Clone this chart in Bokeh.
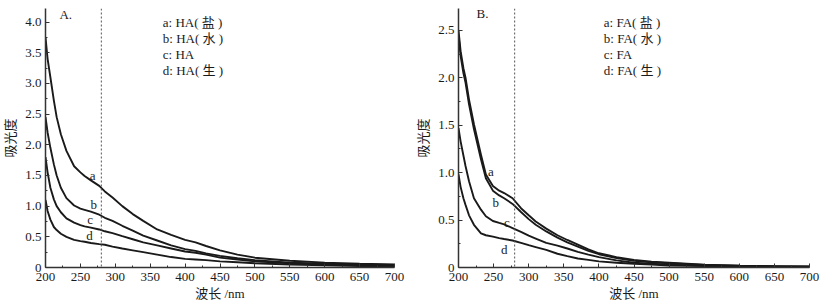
from bokeh.plotting import figure
from bokeh.layouts import row
from bokeh.models import Span, FixedTicker
from bokeh.core.properties import value
from bokeh.embed import file_html
from bokeh.resources import INLINE

# ---------------- data ----------------
x_a = [200, 203, 207, 212, 216, 222, 230, 241, 250, 256, 265, 277, 285, 296, 310, 325,
       340, 360, 380, 400, 415, 430, 450, 475, 500, 550, 600, 650, 700]
ha_salt = [3.75, 3.40, 3.10, 2.72, 2.45, 2.17, 1.90, 1.65, 1.55, 1.49, 1.42, 1.33, 1.24, 1.14,
           1.00, 0.87, 0.76, 0.62, 0.53, 0.45, 0.41, 0.35, 0.28, 0.21, 0.16, 0.11, 0.08, 0.06, 0.05]
ha_water = [2.45, 2.20, 1.95, 1.68, 1.50, 1.30, 1.13, 1.01, 0.96, 0.94, 0.91, 0.86, 0.81, 0.76,
            0.68, 0.60, 0.52, 0.44, 0.36, 0.30, 0.27, 0.23, 0.19, 0.15, 0.12, 0.08, 0.06, 0.05, 0.04]
ha_plain = [1.80, 1.55, 1.30, 1.11, 1.00, 0.90, 0.80, 0.73, 0.69, 0.67, 0.65, 0.62, 0.59, 0.56,
            0.51, 0.46, 0.41, 0.36, 0.31, 0.26, 0.24, 0.21, 0.16, 0.13, 0.10, 0.07, 0.05, 0.04, 0.03]
ha_bio = [1.10, 0.92, 0.78, 0.66, 0.61, 0.55, 0.50, 0.45, 0.43, 0.42, 0.40, 0.38, 0.37, 0.34,
          0.31, 0.28, 0.25, 0.21, 0.17, 0.14, 0.13, 0.12, 0.10, 0.085, 0.07, 0.05, 0.035, 0.025, 0.02]

x_b = [200, 203, 207, 210, 215, 222, 232, 239, 249, 258, 265, 277, 289, 300, 310, 325,
       341, 355, 370, 385, 400, 425, 450, 475, 500, 550, 600, 650, 700]
fa_salt = [2.50, 2.28, 2.10, 2.00, 1.77, 1.51, 1.19, 0.98, 0.86, 0.81, 0.785, 0.73, 0.625, 0.55,
           0.485, 0.41, 0.34, 0.29, 0.24, 0.19, 0.15, 0.11, 0.08, 0.06, 0.05, 0.03, 0.02, 0.015, 0.01]
fa_water = [2.45, 2.23, 2.05, 1.95, 1.72, 1.46, 1.14, 0.94, 0.81, 0.76, 0.73, 0.67, 0.585, 0.51,
            0.45, 0.38, 0.315, 0.265, 0.22, 0.175, 0.14, 0.10, 0.07, 0.055, 0.045, 0.028, 0.018, 0.012, 0.008]
fa_plain = [1.47, 1.33, 1.18, 1.07, 0.91, 0.73, 0.61, 0.54, 0.49, 0.47, 0.455, 0.415, 0.375, 0.335,
            0.305, 0.26, 0.23, 0.20, 0.165, 0.135, 0.11, 0.075, 0.05, 0.04, 0.03, 0.02, 0.015, 0.01, 0.008]
fa_bio = [0.98, 0.85, 0.73, 0.66, 0.55, 0.45, 0.36, 0.34, 0.325, 0.31, 0.30, 0.285, 0.26, 0.235,
          0.215, 0.185, 0.145, 0.12, 0.095, 0.08, 0.065, 0.05, 0.04, 0.03, 0.02, 0.015, 0.01, 0.008, 0.005]

curve_letters = ["a", "b", "c", "d"]
legend_a = ["a: HA( 盐 )", "b: HA( 水 )", "c: HA", "d: HA( 生 )"]
legend_b = ["a: FA( 盐 )", "b: FA( 水 )", "c: FA", "d: FA( 生 )"]

x_ticks = [200, 250, 300, 350, 400, 450, 500, 550, 600, 650, 700]
x_minor = [225, 275, 325, 375, 425, 475, 525, 575, 625, 675]
y_ticks_a = [0, 0.5, 1.0, 1.5, 2.0, 2.5, 3.0, 3.5, 4.0]
y_labels_a = ["0", "0.5", "1.0", "1.5", "2.0", "2.5", "3.0", "3.5", "4.0"]
y_minor_a = [0.25, 0.75, 1.25, 1.75, 2.25, 2.75, 3.25, 3.75]
y_ticks_b = [0, 0.5, 1.0, 1.5, 2.0, 2.5]
y_labels_b = ["0", "0.5", "1.0", "1.5", "2.0", "2.5"]
y_minor_b = [0.25, 0.75, 1.25, 1.75, 2.25]
ref_wavelength = 280

# label positions (data units)
lab_a_x = [267.6, 269, 264, 263]
lab_a_y = [1.50, 1.02, 0.78, 0.52]
lab_b_x = [246, 253, 269, 265]
lab_b_y = [1.015, 0.68, 0.477, 0.19]
leg_a_y = [3.99, 3.73, 3.47, 3.21]
leg_b_y = [2.58, 2.415, 2.245, 2.075]

FONT = "Liberation Serif, Noto Sans CJK SC"
INK = "#1a1a1a"


def make_panel(width, left, right, ymax, xs, series, yt, yl, ym,
               lab_x, lab_y, leg_x, leg_y, legend, panel_tag, tag_x, tag_y):
    p = figure(width=width, height=307, output_backend="svg", toolbar_location=None,
               x_range=(200, 700), y_range=(0, ymax),
               min_border_left=left, min_border_right=right,
               min_border_top=8, min_border_bottom=40)
    p.outline_line_color = None
    p.xgrid.grid_line_color = None
    p.ygrid.grid_line_color = None
    p.background_fill_color = "white"
    p.border_fill_color = "white"

    p.xaxis.ticker = FixedTicker(ticks=x_ticks, minor_ticks=x_minor)
    p.yaxis.ticker = FixedTicker(ticks=yt, minor_ticks=ym)
    p.yaxis.major_label_overrides = {t: s for t, s in zip(yt, yl)}
    for ax in (p.xaxis[0], p.yaxis[0]):
        ax.axis_line_color = "#333333"
        ax.axis_line_width = 1.5
        ax.major_tick_line_color = "#333333"
        ax.minor_tick_line_color = "#333333"
        ax.major_tick_in = 4
        ax.major_tick_out = 0
        ax.minor_tick_in = 2
        ax.minor_tick_out = 0
        ax.major_label_text_font = FONT
        ax.major_label_text_font_size = "13px"
        ax.major_label_text_color = INK
        ax.axis_label_text_font = FONT
        ax.axis_label_text_font_size = "13px"
        ax.axis_label_text_font_style = "normal"
        ax.axis_label_text_color = INK
    p.xaxis.axis_label = "波长 /nm"
    p.yaxis.axis_label = "吸光度"
    p.xaxis.major_label_standoff = 5
    p.yaxis.major_label_standoff = 4
    p.xaxis.axis_label_standoff = 2
    p.yaxis.axis_label_standoff = 4

    p.add_layout(Span(location=ref_wavelength, dimension="height", line_color="#555555",
                      line_dash="2 2", line_width=1))

    for ys in series:
        p.line(xs, ys, line_color=INK, line_width=1.9)

    p.text(x=lab_x, y=lab_y, text=curve_letters, text_font=value(FONT),
           text_font_size="13px", text_align="center", text_baseline="middle", text_color=INK)
    p.text(x=[leg_x] * 4, y=leg_y, text=legend, text_font=value(FONT),
           text_font_size="13px", text_align="left", text_baseline="middle", text_color=INK)
    p.text(x=[tag_x], y=[tag_y], text=[panel_tag], text_font=value(FONT),
           text_font_size="13px", text_align="left", text_baseline="middle", text_color=INK)
    return p


p1 = make_panel(410, 44, 16, 4.22, x_a, [ha_salt, ha_water, ha_plain, ha_bio],
                y_ticks_a, y_labels_a, y_minor_a, lab_a_x, lab_a_y, 368, leg_a_y,
                legend_a, "A.", 220, 4.125)
p2 = make_panel(413, 48, 14, 2.73, x_b, [fa_salt, fa_water, fa_plain, fa_bio],
                y_ticks_b, y_labels_b, y_minor_b, lab_b_x, lab_b_y, 407, leg_b_y,
                legend_b, "B.", 225.7, 2.676)

layout = row(p1, p2)
open("out.html", "w").write(file_html(layout, INLINE))
